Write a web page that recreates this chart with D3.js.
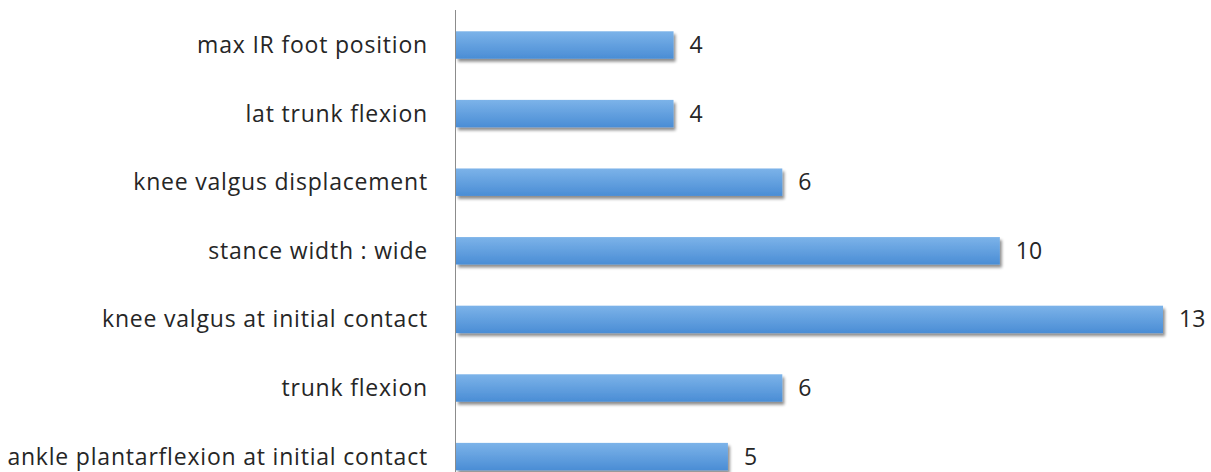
<!DOCTYPE html>
<html>
<head>
<meta charset="utf-8">
<script src="https://cdn.jsdelivr.net/npm/d3@7"></script>
<style>
  html, body { margin: 0; padding: 0; background: #fff; }
  svg text { font-family: "Open Sans", Lato, sans-serif; fill: #262626; }
</style>
</head>
<body>
<svg id="chart" width="1211" height="472"></svg>
<script>
// Categories listed top to bottom, with their counts
const categories = [
  "max IR foot position",
  "lat trunk flexion",
  "knee valgus displacement",
  "stance width : wide",
  "knee valgus at initial contact",
  "trunk flexion",
  "ankle plantarflexion at initial contact"
];
const counts = [4, 4, 6, 10, 13, 6, 5];

const svg = d3.select("#chart");
const axisX = 455.5;

const x = d3.scaleLinear().domain([0, 13]).range([456, 1163]);
const y = d3.scaleBand()
  .domain(categories)
  .range([10.7, 490.9])
  .paddingInner(0.6)
  .paddingOuter(0.3);

const defs = svg.append("defs");
const grad = defs.append("linearGradient")
  .attr("id", "barGrad").attr("x1", 0).attr("y1", 0).attr("x2", 0).attr("y2", 1);
grad.append("stop").attr("offset", "0%").attr("stop-color", "#7cb3e9");
grad.append("stop").attr("offset", "100%").attr("stop-color", "#4a8dd5");

const shadow = defs.append("filter").attr("id", "barShadow")
  .attr("x", "-5%").attr("y", "-30%").attr("width", "115%").attr("height", "180%");
shadow.append("feGaussianBlur").attr("in", "SourceAlpha").attr("stdDeviation", 1.6).attr("result", "blur");
shadow.append("feOffset").attr("in", "blur").attr("dx", 2).attr("dy", 3).attr("result", "off");
shadow.append("feComponentTransfer").attr("in", "off").attr("result", "soft")
  .append("feFuncA").attr("type", "linear").attr("slope", 0.45);
const merge = shadow.append("feMerge");
merge.append("feMergeNode").attr("in", "soft");
merge.append("feMergeNode").attr("in", "SourceGraphic");

const rows = categories.map((c, i) => ({ cat: c, val: counts[i] }));

// Bars
svg.append("g").selectAll("rect").data(rows).join("rect")
  .attr("x", x(0))
  .attr("y", d => y(d.cat))
  .attr("width", d => x(d.val) - x(0))
  .attr("height", y.bandwidth())
  .attr("fill", "url(#barGrad)")
  .attr("filter", "url(#barShadow)");

// Vertical category axis line
svg.append("line")
  .attr("x1", axisX).attr("x2", axisX)
  .attr("y1", 10).attr("y2", 472)
  .attr("stroke", "#8c8c8c").attr("stroke-width", 1);

// Category labels
svg.append("g").selectAll("text").data(rows).join("text")
  .attr("x", 428)
  .attr("y", d => y(d.cat) + y.bandwidth() / 2)
  .attr("dy", "0.35em")
  .attr("text-anchor", "end")
  .attr("font-size", 23)
  .attr("letter-spacing", "0.8px")
  .text(d => d.cat);

// Value labels
svg.append("g").selectAll("text").data(rows).join("text")
  .attr("x", d => x(d.val) + 16)
  .attr("y", d => y(d.cat) + y.bandwidth() / 2)
  .attr("dy", "0.35em")
  .attr("font-size", 23)
  .text(d => d.val);
</script>
</body>
</html>
